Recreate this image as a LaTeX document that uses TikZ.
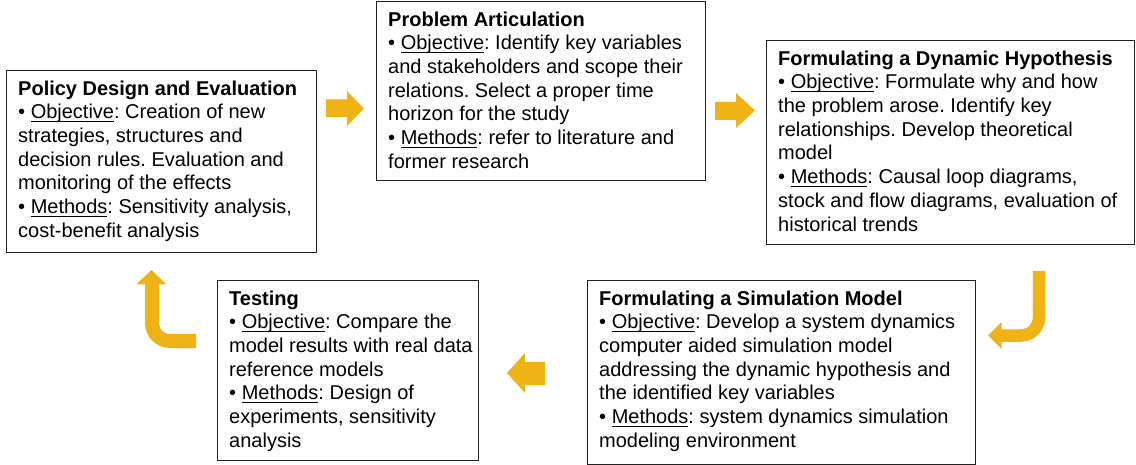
\documentclass[tikz,border=0pt]{standalone}
\usepackage{fontspec}
\setmainfont{Liberation Sans}
\definecolor{gold}{RGB}{239,179,22}
\definecolor{edge}{RGB}{35,35,35}
\newsavebox{\myulbox}
\newcommand{\myul}[1]{\sbox{\myulbox}{#1}\rlap{\rule[-3.3pt]{\wd\myulbox}{0.9pt}}\usebox{\myulbox}}
\tikzset{
  box/.style={draw=edge, line width=1.3pt, rectangle, inner sep=0pt, anchor=north west},
  txt/.style={anchor=north west, inner sep=0pt, align=left, font=\fontsize{20}{23.7}\selectfont\frenchspacing, text=black},
  blockarrow/.style={fill=gold, draw=none},
  bentarrow/.style={draw=gold, line width=13pt, rounded corners=18pt},
}
\begin{document}
\begin{tikzpicture}[x=1pt,y=-1pt]
\useasboundingbox (0,0) rectangle (1136,465);

% boxes
\node[box, minimum width=310pt, minimum height=182pt] (pol) at (6,70) {};
\node[box, minimum width=329pt, minimum height=179pt] (pro) at (376,1) {};
\node[box, minimum width=368pt, minimum height=204pt] (dyn) at (766,40) {};
\node[box, minimum width=261pt, minimum height=180pt] (tst) at (217,280) {};
\node[box, minimum width=388pt, minimum height=184pt] (sim) at (587,280) {};

% texts
\node[txt] (polt) at ([shift={(12,8.4)}]pol.north west) {\strut\textbf{Policy Design and Evaluation}\\
• \myul{Objective}: Creation of new\\
strategies, structures and\\
decision rules. Evaluation and\\
monitoring of the effects\\
• \myul{Methods}: Sensitivity analysis,\\
cost-benefit analysis};

\node[txt] (prot) at ([shift={(12,8.4)}]pro.north west) {\strut\textbf{Problem Articulation}\\
• \myul{Objective}: Identify key variables\\
and stakeholders and scope their\\
relations. Select a proper time\\
horizon for the study\\
• \myul{Methods}: refer to literature and\\
former research};

\node[txt] (dynt) at ([shift={(12,8.4)}]dyn.north west) {\strut\textbf{Formulating a Dynamic Hypothesis}\\
• \myul{Objective}: Formulate why and how\\
the problem arose. Identify key\\
relationships. Develop theoretical\\
model\\
• \myul{Methods}: Causal loop diagrams,\\
stock and flow diagrams, evaluation of\\
historical trends};

\node[txt] (tstt) at ([shift={(12,8.4)}]tst.north west) {\strut\textbf{Testing}\\
• \myul{Objective}: Compare the\\
model results with real data\\
reference models\\
• \myul{Methods}: Design of\\
experiments, sensitivity\\
analysis};

\node[txt] (simt) at ([shift={(12,8.4)}]sim.north west) {\strut\textbf{Formulating a Simulation Model}\\
• \myul{Objective}: Develop a system dynamics\\
computer aided simulation model\\
addressing the dynamic hypothesis and\\
the identified key variables\\
• \myul{Methods}: system dynamics simulation\\
modeling environment};

% straight block arrows
\fill[blockarrow] (326,99.5) -- (347,99.5) -- (347,91) -- (364,108.5) -- (347,126) -- (347,117) -- (326,117) -- cycle;
\fill[blockarrow] (715,102) -- (736,102) -- (736,93) -- (755,110.5) -- (736,128) -- (736,120) -- (715,120) -- cycle;
\fill[blockarrow] (545,362) -- (525,362) -- (525,353) -- (507,373) -- (525,393) -- (525,385) -- (545,385) -- cycle;

% bent arrows
\draw[bentarrow, line width=12.5pt] (1039,271) -- (1039,335.5) -- (1000.5,335.5);
\fill[blockarrow] (1001.5,322) -- (988,335.5) -- (1001.5,349) -- cycle;
\draw[bentarrow, line width=14pt] (196,341) -- (152,341) -- (152,283.5);
\fill[blockarrow] (136,284.5) -- (151.5,270) -- (166.5,284.5) -- cycle;
\end{tikzpicture}
\end{document}
